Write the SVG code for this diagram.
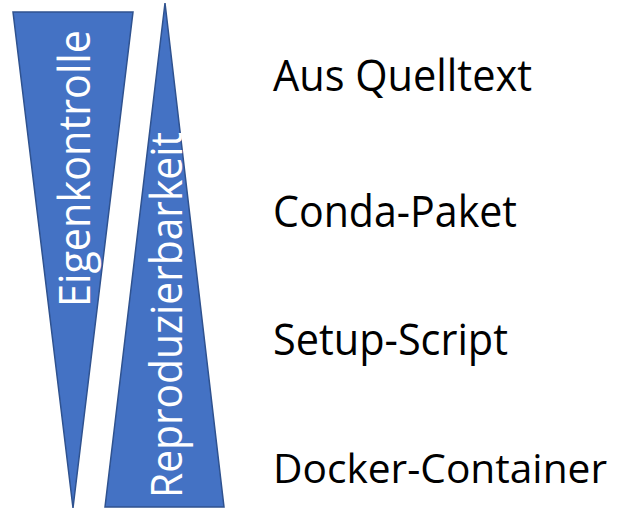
<svg xmlns="http://www.w3.org/2000/svg" width="621" height="512" viewBox="0 0 621 512">
<style>
.tri{fill:#4472C4;stroke:#2F528F;stroke-width:1.5;stroke-linejoin:miter}
.in{font-family:"Open Sans","Liberation Sans",sans-serif;font-size:43px;fill:#ffffff}
.lbl{font-family:"Open Sans","Liberation Sans",sans-serif;font-size:43px;fill:#000000}
</style>
<rect width="621" height="512" fill="#ffffff"/>
<g id="eigenkontrolle">
<polygon class="tri" points="13,12 133,12 73,508"/>
<text class="in" transform="translate(90,307) rotate(-90)" textLength="277" lengthAdjust="spacingAndGlyphs">Eigenkontrolle</text>
</g>
<g id="reproduzierbarkeit">
<polygon class="tri" points="165,3 224,507 105,507"/>
<text class="in" transform="translate(182,498) rotate(-90)" textLength="366" lengthAdjust="spacingAndGlyphs">Reproduzierbarkeit</text>
</g>
<g id="aus-quelltext"><text class="lbl" x="273" y="91" textLength="259" lengthAdjust="spacingAndGlyphs">Aus Quelltext</text></g>
<g id="conda-paket"><text class="lbl" x="273" y="227" textLength="244" lengthAdjust="spacingAndGlyphs">Conda-Paket</text></g>
<g id="setup-script"><text class="lbl" x="273" y="355" textLength="235" lengthAdjust="spacingAndGlyphs">Setup-Script</text></g>
<g id="docker-container"><text class="lbl" x="273" y="483" style="font-size:40px" textLength="334" lengthAdjust="spacingAndGlyphs">Docker-Container</text></g>
<g id="connectors"></g>
</svg>
